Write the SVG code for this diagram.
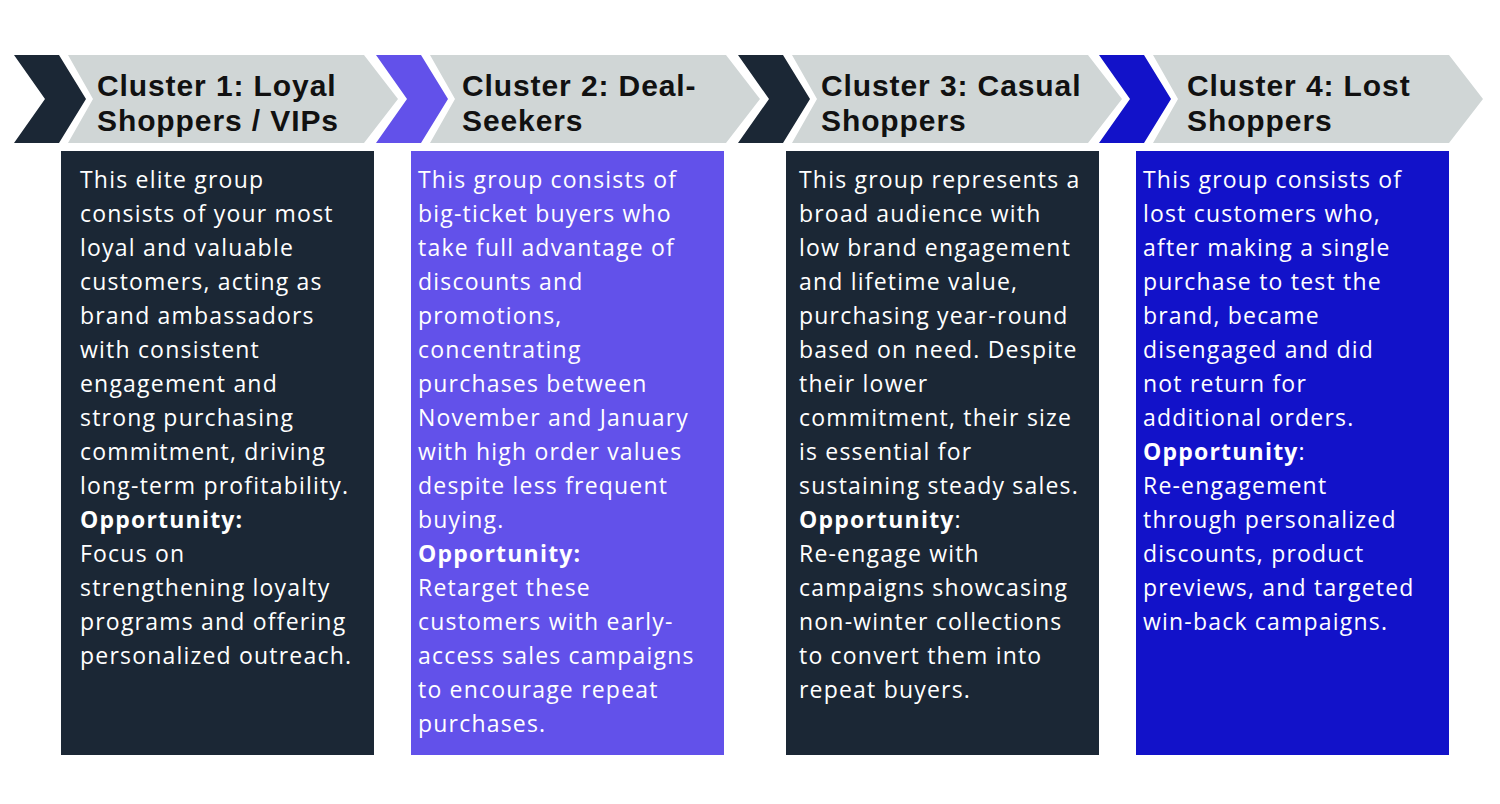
<svg xmlns="http://www.w3.org/2000/svg" width="1500" height="804" viewBox="0 0 1500 804">
<style>
.g{fill:#d0d6d6}
.h{font-family:"Liberation Sans",Arial,sans-serif;font-weight:bold;font-size:30px;fill:#111;letter-spacing:0.9px}
.t{font-family:"Open Sans",sans-serif;font-size:23px;fill:#fff;letter-spacing:1.2px}
.b{font-weight:bold}
</style>
<defs>
<polygon id="chev" points="0,55 45,55 72,99 45,143 0,143 31,99"/>
<polygon id="gray" points="54,55 350,55 384,99 350,143 54,143 79,99"/>
</defs>
<rect width="1500" height="804" fill="#fff"/>
<g id="n1" transform="translate(14,0)">
<use href="#chev" fill="#1b2735"/><use href="#gray" class="g"/>
<text class="h" x="83" y="96">Cluster 1: Loyal</text><text class="h" x="83" y="131">Shoppers / VIPs</text>
<rect x="47" y="151" width="313" height="604" fill="#1b2735"/>
<text class="t" x="66" y="188"><tspan x="66">This elite group</tspan><tspan x="66" dy="34">consists of your most</tspan><tspan x="66" dy="34">loyal and valuable</tspan><tspan x="66" dy="34">customers, acting as</tspan><tspan x="66" dy="34">brand ambassadors</tspan><tspan x="66" dy="34">with consistent</tspan><tspan x="66" dy="34">engagement and</tspan><tspan x="66" dy="34">strong purchasing</tspan><tspan x="66" dy="34">commitment, driving</tspan><tspan x="66" dy="34">long-term profitability.</tspan><tspan x="66" dy="34" class="b">Opportunity:</tspan><tspan x="66" dy="34">Focus on</tspan><tspan x="66" dy="34">strengthening loyalty</tspan><tspan x="66" dy="34">programs and offering</tspan><tspan x="66" dy="34">personalized outreach.</tspan></text>
</g>
<g id="n2" transform="translate(376,0)">
<use href="#chev" fill="#6251ea"/><use href="#gray" class="g"/>
<text class="h" x="86" y="96">Cluster 2: Deal-</text><text class="h" x="86" y="131">Seekers</text>
<rect x="35" y="151" width="313" height="604" fill="#6251ea"/>
<text class="t" x="42" y="188"><tspan x="42">This group consists of</tspan><tspan x="42" dy="34">big-ticket buyers who</tspan><tspan x="42" dy="34">take full advantage of</tspan><tspan x="42" dy="34">discounts and</tspan><tspan x="42" dy="34">promotions,</tspan><tspan x="42" dy="34">concentrating</tspan><tspan x="42" dy="34">purchases between</tspan><tspan x="42" dy="34">November and January</tspan><tspan x="42" dy="34">with high order values</tspan><tspan x="42" dy="34">despite less frequent</tspan><tspan x="42" dy="34">buying.</tspan><tspan x="42" dy="34" class="b">Opportunity:</tspan><tspan x="42" dy="34">Retarget these</tspan><tspan x="42" dy="34">customers with early-</tspan><tspan x="42" dy="34">access sales campaigns</tspan><tspan x="42" dy="34">to encourage repeat</tspan><tspan x="42" dy="34">purchases.</tspan></text>
</g>
<g id="n3" transform="translate(738,0)">
<use href="#chev" fill="#1b2735"/><use href="#gray" class="g"/>
<text class="h" x="83" y="96">Cluster 3: Casual</text><text class="h" x="83" y="131">Shoppers</text>
<rect x="48" y="151" width="313" height="604" fill="#1b2735"/>
<text class="t" x="61" y="188"><tspan x="61">This group represents a</tspan><tspan x="61" dy="34">broad audience with</tspan><tspan x="61" dy="34">low brand engagement</tspan><tspan x="61" dy="34">and lifetime value,</tspan><tspan x="61" dy="34">purchasing year-round</tspan><tspan x="61" dy="34">based on need. Despite</tspan><tspan x="61" dy="34">their lower</tspan><tspan x="61" dy="34">commitment, their size</tspan><tspan x="61" dy="34">is essential for</tspan><tspan x="61" dy="34">sustaining steady sales.</tspan><tspan x="61" dy="34"><tspan class="b">Opportunity</tspan>:</tspan><tspan x="61" dy="34">Re-engage with</tspan><tspan x="61" dy="34">campaigns showcasing</tspan><tspan x="61" dy="34">non-winter collections</tspan><tspan x="61" dy="34">to convert them into</tspan><tspan x="61" dy="34">repeat buyers.</tspan></text>
</g>
<g id="n4" transform="translate(1099,0)">
<use href="#chev" fill="#1212c9"/><use href="#gray" class="g"/>
<text class="h" x="88" y="96">Cluster 4: Lost</text><text class="h" x="88" y="131">Shoppers</text>
<rect x="37" y="151" width="313" height="604" fill="#1212c9"/>
<text class="t" x="44" y="188"><tspan x="44">This group consists of</tspan><tspan x="44" dy="34">lost customers who,</tspan><tspan x="44" dy="34">after making a single</tspan><tspan x="44" dy="34">purchase to test the</tspan><tspan x="44" dy="34">brand, became</tspan><tspan x="44" dy="34">disengaged and did</tspan><tspan x="44" dy="34">not return for</tspan><tspan x="44" dy="34">additional orders.</tspan><tspan x="44" dy="34"><tspan class="b">Opportunity</tspan>:</tspan><tspan x="44" dy="34">Re-engagement</tspan><tspan x="44" dy="34">through personalized</tspan><tspan x="44" dy="34">discounts, product</tspan><tspan x="44" dy="34">previews, and targeted</tspan><tspan x="44" dy="34">win-back campaigns.</tspan></text>
</g>
<g id="connectors"/>
</svg>
